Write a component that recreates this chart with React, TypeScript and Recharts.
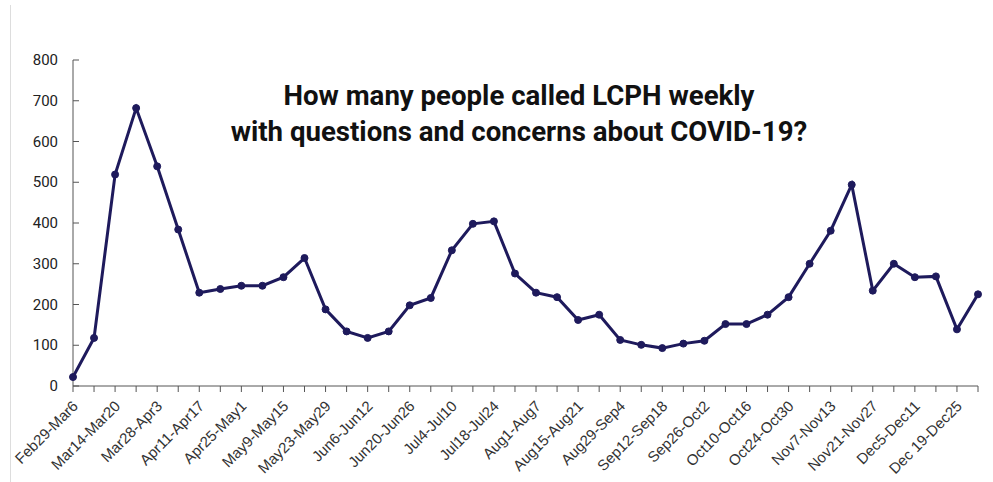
import React from 'react';
import { LineChart, Line, XAxis, YAxis } from 'recharts';

// weekly call counts
const weeks = [
  'Feb29-Mar6', 'Mar7-Mar13', 'Mar14-Mar20', 'Mar21-Mar27', 'Mar28-Apr3', 'Apr4-Apr10',
  'Apr11-Apr17', 'Apr18-Apr24', 'Apr25-May1', 'May2-May8', 'May9-May15', 'May16-May22',
  'May23-May29', 'May30-Jun5', 'Jun6-Jun12', 'Jun13-Jun19', 'Jun20-Jun26', 'Jun27-Jul3',
  'Jul4-Jul10', 'Jul11-Jul17', 'Jul18-Jul24', 'Jul25-Jul31', 'Aug1-Aug7', 'Aug8-Aug14',
  'Aug15-Aug21', 'Aug22-Aug28', 'Aug29-Sep4', 'Sep5-Sep11', 'Sep12-Sep18', 'Sep19-Sep25',
  'Sep26-Oct2', 'Oct3-Oct9', 'Oct10-Oct16', 'Oct17-Oct23', 'Oct24-Oct30', 'Oct31-Nov6',
  'Nov7-Nov13', 'Nov14-Nov20', 'Nov21-Nov27', 'Nov28-Dec4', 'Dec5-Dec11', 'Dec12-Dec18',
  'Dec 19-Dec25', 'Dec26-Jan1',
];

const calls = [
  22, 118, 519, 682, 539, 384, 229, 238, 246, 246, 267, 314,
  188, 134, 118, 134, 198, 216, 333, 398, 404, 276, 229, 218,
  162, 175, 113, 101, 93, 104, 111, 152, 152, 175, 218, 300,
  381, 494, 234, 300, 267, 269, 139, 225,
];

const yTicks = [0, 100, 200, 300, 400, 500, 600, 700, 800];

const title = ['How many people called LCPH weekly', 'with questions and concerns about COVID-19?'];

const data = weeks.map((week, i) => ({ week, calls: calls[i] }));

const LINE = '#1e1a5c';
const AXIS = '#555';
const FONT = 'Roboto, "Liberation Sans", Arial, sans-serif';
const LABEL_FONT = '"Liberation Sans", Arial, sans-serif';

const XTick = (props: any) => {
  const { x, y, payload, index } = props;
  if (index % 2 === 1) return null;
  const ax = x + 6;
  const ay = y + 15;
  return (
    <text
      x={ax}
      y={ay}
      transform={`rotate(-45 ${ax} ${ay})`}
      textAnchor="end"
      fontSize={15}
      fill="#333"
      fontFamily={LABEL_FONT}
    >
      {payload.value}
    </text>
  );
};

// ticks point inward, so draw them with the label
const YTick = (props: any) => {
  const { x, y, payload } = props;
  return (
    <g>
      <line x1={x + 15} x2={x + 21} y1={y} y2={y} stroke={AXIS} strokeWidth={1} />
      <text x={x} y={y} dy={5} textAnchor="end" fontSize={15} fill="#222" fontFamily={FONT}>
        {payload.value}
      </text>
    </g>
  );
};

export default function App() {
  return (
    <div style={{ position: 'absolute', left: 0, top: 0, width: 993, height: 482, background: '#fff', fontFamily: FONT }}>
      <div style={{ position: 'absolute', left: 10, top: 5, width: 1, height: 477, background: '#ddd' }} />
      <LineChart width={993} height={482} data={data} margin={{ top: 60, right: 15, bottom: 6, left: 0 }}>
        <XAxis
          dataKey="week"
          scale="point"
          padding={{ left: 0, right: 0 }}
          interval={0}
          height={90}
          tickSize={6}
          tickMargin={0}
          stroke={AXIS}
          tick={<XTick />}
        />
        <YAxis
          domain={[0, 800]}
          ticks={yTicks}
          width={73}
          tickLine={false}
          tickSize={0}
          tickMargin={15}
          stroke={AXIS}
          tick={<YTick />}
        />
        <Line
          type="linear"
          dataKey="calls"
          stroke={LINE}
          strokeWidth={3}
          dot={{ r: 3.5, fill: LINE, stroke: LINE, strokeWidth: 1 }}
          isAnimationActive={false}
        />
      </LineChart>
      <div
        style={{
          position: 'absolute',
          left: 0,
          width: 1038,
          top: 78,
          textAlign: 'center',
          fontWeight: 700,
          fontSize: 27.6,
          lineHeight: '36px',
          color: '#111',
        }}
      >
        {title.map((t) => (
          <div key={t}>{t}</div>
        ))}
      </div>
    </div>
  );
}
